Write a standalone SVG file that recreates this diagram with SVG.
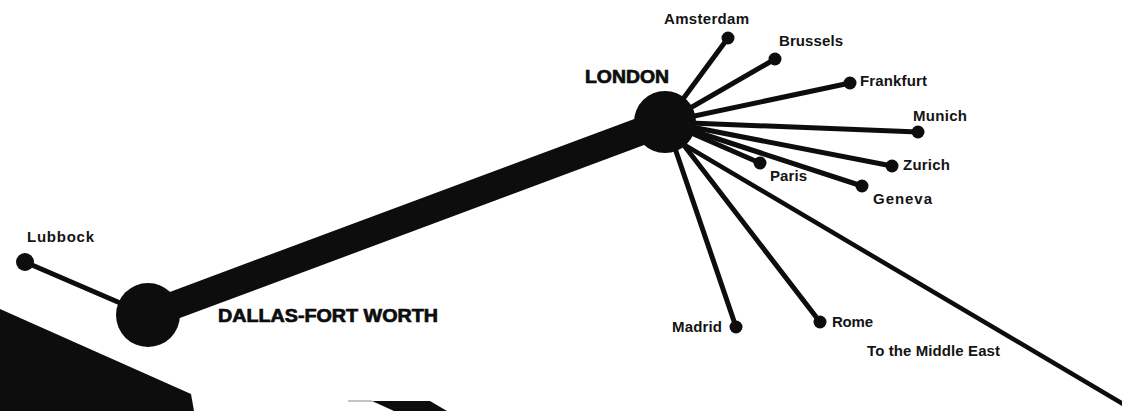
<svg xmlns="http://www.w3.org/2000/svg" width="1122" height="411" viewBox="0 0 1122 411">
  <style>
    .bg { fill: #ffffff; }
    .ink { fill: #0d0d0d; }
    .spoke { stroke: #0d0d0d; stroke-width: 5; stroke-linecap: round; fill: none; }
    .trunk { stroke: #0d0d0d; stroke-width: 28; stroke-linecap: butt; fill: none; }
    .lbl { font-family: "Liberation Sans", Arial, sans-serif; font-weight: bold; font-size: 15px; fill: #141414; }
    .hub { font-family: "Liberation Sans", Arial, sans-serif; font-weight: bold; font-size: 18px; fill: #0d0d0d; stroke: #0d0d0d; stroke-width: 0.7; }
  </style>
  <rect class="bg" x="0" y="0" width="1122" height="411"/>

  <!-- background shapes (photo fragments) -->
  <polygon class="ink" points="0,309 191,394 194,411 0,411"/>
  <polygon class="ink" points="372,401 430,401 447,411 394,411"/>
  <line x1="348" y1="401" x2="372" y2="401" stroke="#888" stroke-width="1"/>

  <g id="connectors">
    <line class="trunk" x1="148" y1="315" x2="666" y2="122"/>
    <line class="spoke" x1="25" y1="262" x2="148" y2="315"/>
    <line class="spoke" x1="666" y1="122" x2="728" y2="38"/>
    <line class="spoke" x1="666" y1="122" x2="775" y2="59"/>
    <line class="spoke" x1="666" y1="122" x2="850" y2="83"/>
    <line class="spoke" x1="666" y1="122" x2="918" y2="132"/>
    <line class="spoke" x1="666" y1="122" x2="892" y2="166"/>
    <line class="spoke" x1="666" y1="122" x2="760" y2="163"/>
    <line class="spoke" x1="666" y1="122" x2="862" y2="186"/>
    <line class="spoke" x1="666" y1="122" x2="736" y2="327"/>
    <line class="spoke" x1="666" y1="122" x2="820" y2="322"/>
    <line class="spoke" x1="666" y1="134" x2="1135" y2="411" style="stroke-width:4.5"/>
  </g>

  <g id="dallas">
    <circle class="ink" cx="148" cy="315" r="32"/>
    <text class="hub" x="218" y="322" textLength="220" lengthAdjust="spacingAndGlyphs">DALLAS-FORT WORTH</text>
  </g>
  <g id="london">
    <circle class="ink" cx="665" cy="122" r="31"/>
    <text class="hub" x="585" y="83" textLength="84" lengthAdjust="spacingAndGlyphs">LONDON</text>
  </g>
  <g id="lubbock">
    <circle class="ink" cx="25" cy="262" r="9"/>
    <text class="lbl" x="27" y="242" textLength="67">Lubbock</text>
  </g>
  <g id="amsterdam">
    <circle class="ink" cx="728" cy="38" r="6.5"/>
    <text class="lbl" x="664" y="24" textLength="85">Amsterdam</text>
  </g>
  <g id="brussels">
    <circle class="ink" cx="775" cy="59" r="6.5"/>
    <text class="lbl" x="779" y="46" textLength="64">Brussels</text>
  </g>
  <g id="frankfurt">
    <circle class="ink" cx="850" cy="83" r="6.5"/>
    <text class="lbl" x="860" y="86" textLength="67">Frankfurt</text>
  </g>
  <g id="munich">
    <circle class="ink" cx="918" cy="132" r="6.5"/>
    <text class="lbl" x="913" y="121" textLength="54">Munich</text>
  </g>
  <g id="zurich">
    <circle class="ink" cx="892" cy="166" r="6.5"/>
    <text class="lbl" x="903" y="170" textLength="47">Zurich</text>
  </g>
  <g id="paris">
    <circle class="ink" cx="760" cy="163" r="6.5"/>
    <text class="lbl" x="770" y="181" textLength="37">Paris</text>
  </g>
  <g id="geneva">
    <circle class="ink" cx="862" cy="186" r="6.5"/>
    <text class="lbl" x="873" y="204" textLength="59">Geneva</text>
  </g>
  <g id="madrid">
    <circle class="ink" cx="736" cy="327" r="6.5"/>
    <text class="lbl" x="672" y="332" textLength="50">Madrid</text>
  </g>
  <g id="rome">
    <circle class="ink" cx="820" cy="322" r="6.5"/>
    <text class="lbl" x="832" y="327" textLength="41">Rome</text>
  </g>
  <g id="middle-east">
    <text class="lbl" x="867" y="356" textLength="133">To the Middle East</text>
  </g>
</svg>
